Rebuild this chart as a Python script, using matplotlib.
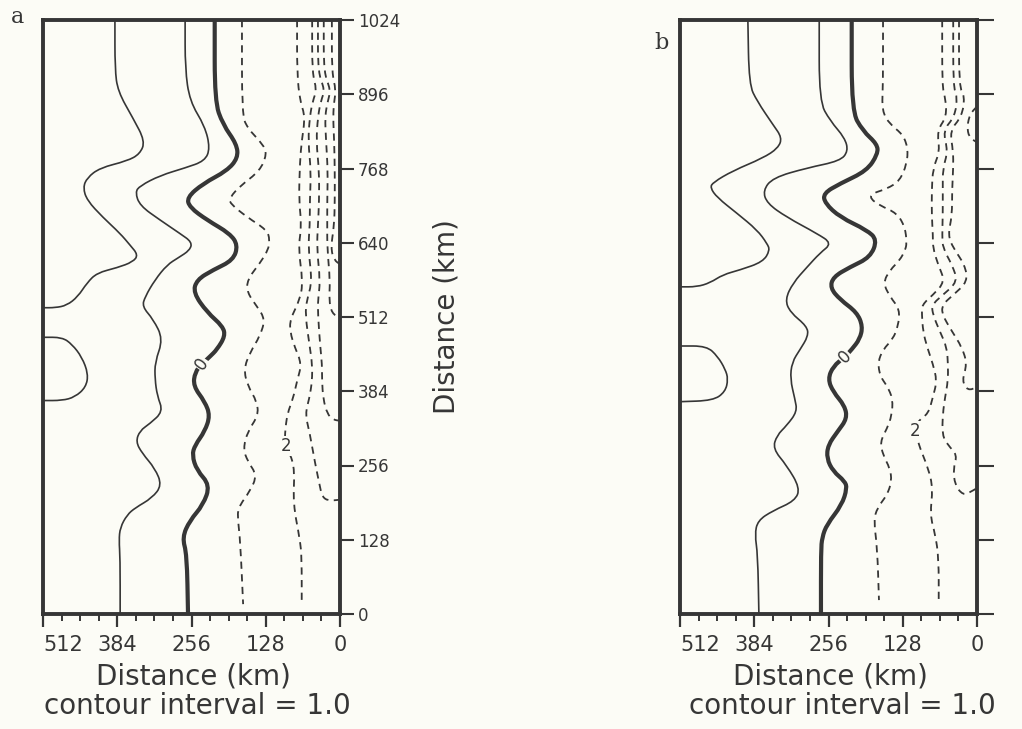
import numpy as np
import matplotlib.pyplot as plt
from matplotlib.path import Path
from matplotlib.patches import PathPatch
from matplotlib.ticker import MultipleLocator

BG = '#fcfcf6'
INK = '#363636'

# contour lines as (offshore distance km, alongshore distance km)
# ---- panel a ----
a_pos2 = [(388, 1024), (388, 940), (383, 901), (357, 855), (336, 815), (345, 793), (367, 781),
          (414, 769), (436, 752), (443, 735), (436, 713), (409, 684), (379, 656), (362, 636),
          (348, 619), (357, 607), (384, 597), (419, 588), (436, 571), (452, 547), (471, 532),
          (491, 528), (512, 528)]
a_pos2_bump = [(512, 477), (479, 477), (462, 465), (445, 443), (434, 414), (438, 391),
               (457, 374), (479, 368), (512, 368)]
a_pos1 = [(267, 1024), (267, 940), (259, 884), (233, 841), (224, 803), (233, 781), (267, 769),
          (310, 756), (345, 738), (353, 727), (345, 704), (310, 679), (276, 656), (255, 641),
          (259, 627), (279, 614), (298, 602), (319, 576), (336, 547), (341, 530), (322, 508),
          (305, 474), (319, 434), (319, 405), (315, 376), (305, 349), (328, 328), (345, 316),
          (352, 297), (341, 277), (319, 251), (307, 222), (324, 200), (353, 183), (367, 171),
          (379, 149), (381, 127), (379, 97), (379, 0)]
a_zero = [(216, 1024), (216, 884), (202, 844), (178, 810), (176, 786), (195, 764), (236, 742),
          (264, 718), (259, 701), (229, 679), (190, 656), (176, 636), (184, 610), (219, 593),
          (247, 576), (253, 554), (229, 520), (202, 496), (198, 479), (212, 456), (224, 444),
          (238, 431), (250, 417), (253, 393), (233, 366), (224, 342), (233, 315), (250, 291),
          (255, 274), (247, 248), (224, 222), (236, 188), (259, 161), (272, 132), (264, 103),
          (262, 0)]
a_neg1 = [(169, 1024), (169, 862), (160, 838), (133, 810), (126, 793), (138, 764), (172, 738),
          (190, 718), (190, 708), (160, 684), (126, 662), (121, 645), (124, 627), (138, 605),
          (160, 576), (160, 554), (143, 530), (129, 508), (138, 479), (155, 451), (166, 422),
          (159, 393), (143, 366), (141, 342), (159, 315), (167, 285), (159, 263), (143, 239),
          (155, 212), (176, 183), (176, 161), (172, 127), (167, 17)]
a_neg2 = [(74, 1024), (74, 932), (69, 884), (60, 858), (66, 815), (69, 781), (71, 713),
          (66, 670), (72, 631), (64, 573), (69, 542), (86, 508), (86, 486), (78, 460), (66, 431),
          (74, 402), (81, 371), (91, 345), (95, 311), (95, 289), (86, 277), (78, 248), (81, 191),
          (69, 128), (66, 97), (66, 15)]
a_neg3 = [(48, 1024), (48, 932), (40, 904), (47, 884), (52, 858), (55, 815), (50, 764),
          (52, 713), (52, 670), (55, 631), (48, 573), (57, 542), (60, 516), (52, 460), (48, 431),
          (48, 402), (53, 371), (60, 345), (52, 311), (43, 260), (34, 217), (31, 203), (21, 195),
          (0, 197)]
a_neg4 = [(38, 1024), (38, 932), (26, 904), (33, 884), (38, 858), (41, 815), (36, 764),
          (36, 713), (38, 670), (40, 631), (34, 573), (38, 542), (38, 516), (34, 460), (31, 431),
          (31, 402), (29, 371), (22, 345), (12, 335), (0, 333)]
a_neg5 = [(28, 1024), (28, 932), (16, 904), (21, 884), (26, 858), (24, 815), (21, 764),
          (22, 713), (22, 670), (22, 631), (17, 573), (19, 542), (14, 518), (0, 511)]
a_neg6 = [(14, 1024), (14, 932), (7, 904), (10, 884), (12, 858), (10, 815), (9, 764),
          (9, 713), (10, 670), (16, 631), (10, 610), (0, 603)]

# ---- panel b ----
b_pos2 = [(395, 1024), (393, 913), (379, 884), (352, 844), (336, 821), (343, 803), (369, 786),
          (421, 764), (455, 744), (460, 735), (448, 718), (414, 691), (379, 662), (362, 639),
          (357, 627), (369, 607), (409, 593), (438, 585), (460, 571), (483, 564), (512, 564)]
b_pos2_bump = [(512, 462), (466, 462), (447, 444), (434, 422), (429, 405), (434, 383),
               (455, 368), (512, 366)]
b_pos1 = [(272, 1024), (272, 884), (253, 850), (228, 821), (222, 798), (236, 781), (293, 769),
          (352, 752), (369, 730), (362, 708), (328, 684), (276, 656), (250, 639), (271, 622),
          (293, 598), (317, 571), (331, 542), (322, 520), (293, 496), (291, 479), (305, 456),
          (319, 434), (322, 405), (314, 371), (310, 349), (328, 325), (345, 308), (352, 285),
          (328, 256), (305, 217), (314, 195), (352, 178), (378, 161), (383, 137), (378, 103),
          (376, 0)]
b_zero = [(216, 1024), (216, 867), (197, 833), (172, 810), (171, 793), (190, 764), (236, 742),
          (265, 725), (262, 708), (236, 684), (190, 662), (172, 645), (184, 615), (219, 598),
          (248, 581), (253, 562), (236, 542), (207, 520), (197, 496), (202, 474), (216, 456),
          (228, 443), (248, 427), (257, 405), (248, 383), (228, 359), (224, 337), (240, 315),
          (257, 291), (259, 268), (248, 246), (228, 229), (224, 217), (233, 188), (259, 154),
          (267, 132), (269, 109), (269, 0)]
b_neg1 = [(162, 1024), (162, 913), (164, 867), (150, 844), (128, 827), (119, 803), (121, 776),
          (133, 747), (155, 733), (181, 725), (184, 716), (167, 704), (138, 691), (124, 667),
          (121, 639), (124, 627), (133, 610), (150, 593), (162, 571), (150, 547), (133, 525),
          (136, 496), (145, 474), (162, 456), (171, 434), (167, 410), (155, 393), (145, 371),
          (147, 342), (155, 320), (167, 297), (162, 274), (150, 251), (147, 229), (155, 205),
          (172, 183), (178, 161), (172, 115), (169, 24)]
b_neg2 = [(60, 1024), (60, 909), (55, 892), (52, 858), (69, 833), (64, 798), (76, 768),
          (78, 730), (78, 687), (76, 653), (76, 631), (67, 602), (55, 573), (76, 550), (95, 533),
          (95, 516), (93, 487), (86, 460), (76, 431), (69, 402), (76, 374), (84, 345), (102, 333),
          (107, 315), (98, 285), (84, 251), (76, 217), (81, 171), (72, 137), (66, 97), (66, 17)]
b_neg3 = [(41, 1024), (41, 909), (34, 892), (38, 858), (59, 833), (50, 798), (59, 768),
          (59, 730), (59, 687), (60, 653), (59, 631), (43, 602), (33, 573), (59, 550), (78, 533),
          (76, 516), (64, 487), (52, 460), (50, 431), (50, 402), (55, 374), (59, 345), (60, 308),
          (50, 291), (34, 274), (41, 251), (38, 222), (24, 205), (12, 210), (0, 217)]
b_neg4 = [(31, 1024), (31, 909), (21, 892), (26, 858), (47, 833), (41, 798), (41, 768),
          (43, 730), (43, 687), (50, 653), (41, 631), (21, 602), (16, 573), (41, 550), (60, 533),
          (60, 516), (43, 487), (26, 460), (17, 431), (26, 402), (16, 385), (0, 391)]
b_neg5 = [(0, 875), (12, 862), (17, 841), (14, 822), (0, 813)]

x_ticks = [512, 384, 256, 128, 0]
y_ticks = [0, 128, 256, 384, 512, 640, 768, 896, 1024]

panels = [
    dict(name='a', solid=[a_pos2, a_pos2_bump, a_pos1], zero=a_zero,
         dashed=[a_neg1, a_neg2, a_neg3, a_neg4, a_neg5, a_neg6],
         zero_lab=(238, 431, 55), two_lab=(93, 290, 0), left=43),
    dict(name='b', solid=[b_pos2, b_pos2_bump, b_pos1], zero=b_zero,
         dashed=[b_neg1, b_neg2, b_neg3, b_neg4, b_neg5],
         zero_lab=(228, 443, 45), two_lab=(107, 315, 0), left=680),
]


def curve(ax, pts, **kw):
    # read points used as quadratic bezier control points, so matplotlib draws a smooth line
    v = np.array(pts, dtype=float)
    mids = (v[:-1] + v[1:]) / 2
    verts = [v[0], mids[0]]
    codes = [Path.MOVETO, Path.LINETO]
    for i in range(1, len(v) - 1):
        verts += [v[i], mids[i]]
        codes += [Path.CURVE3, Path.CURVE3]
    verts.append(v[-1])
    codes.append(Path.LINETO)
    ax.add_patch(PathPatch(Path(verts, codes), fill=False, edgecolor=INK, **kw))


fig = plt.figure(figsize=(10.22, 7.29), dpi=100, facecolor=BG)
W, H = 1022, 729

for p in panels:
    ax = fig.add_axes([p['left'] / W, (H - 614) / H, 297 / W, 594 / H])
    ax.set_facecolor(BG)
    for line in p['solid']:
        curve(ax, line, lw=1.2, joinstyle='round')
    curve(ax, p['zero'], lw=3.0, joinstyle='round', capstyle='butt')
    for line in p['dashed']:
        curve(ax, line, lw=1.3, linestyle=(0, (4, 3)))

    zx, zy, zr = p['zero_lab']
    ax.text(zx, zy, '0', fontsize=12, rotation=zr, ha='center', va='center', color=INK,
            zorder=5, bbox=dict(boxstyle='square,pad=0.05', fc=BG, ec='none'))
    tx, ty, tr = p['two_lab']
    ax.text(tx, ty, '2', fontsize=12, rotation=tr, ha='center', va='center', color=INK,
            zorder=5, bbox=dict(boxstyle='square,pad=0.05', fc=BG, ec='none'))

    ax.set_xlim(512, 0)
    ax.set_ylim(0, 1024)
    for s in ax.spines.values():
        s.set_linewidth(2.8)
        s.set_color(INK)

    ax.set_xticks(x_ticks)
    ax.set_xticklabels([str(v) for v in x_ticks])
    ax.xaxis.set_minor_locator(MultipleLocator(32))
    ax.tick_params(axis='x', which='major', direction='out', length=9, width=1.6,
                   labelsize=15, pad=6, colors=INK)
    ax.tick_params(axis='x', which='minor', direction='out', length=5, width=1.4, colors=INK)
    ax.get_xticklabels()[0].set_horizontalalignment('left')

    ax.yaxis.tick_right()
    ax.set_yticks(y_ticks)
    ax.tick_params(axis='y', which='major', direction='out', length=10, width=1.5,
                   labelsize=12, pad=3, colors=INK)
    if p['name'] == 'b':
        ax.tick_params(axis='y', labelright=False, length=12)
    else:
        ax.set_ylabel('Distance (km)', fontsize=20, color=INK)
        ax.yaxis.set_label_position('right')
        ax.yaxis.set_label_coords(1.31, 0.5)

    cx = (p['left'] + 150) / W
    fig.text(cx, 1 - 676 / H, 'Distance (km)', fontsize=20, ha='center', va='center', color=INK)
    fig.text(cx + 4 / W if p['name'] == 'a' else cx + 12 / W, 1 - 706 / H,
             'contour interval = 1.0', fontsize=20, ha='center', va='center', color=INK)

fig.text(17 / W, 1 - 17 / H, 'a', fontsize=16, family='DejaVu Serif', ha='center', va='center',
         color=INK)
fig.text(661 / W, 1 - 43 / H, 'b', fontsize=16, family='DejaVu Serif', ha='center', va='center',
         color=INK)

fig.savefig('out.png', dpi=100, facecolor=BG)
